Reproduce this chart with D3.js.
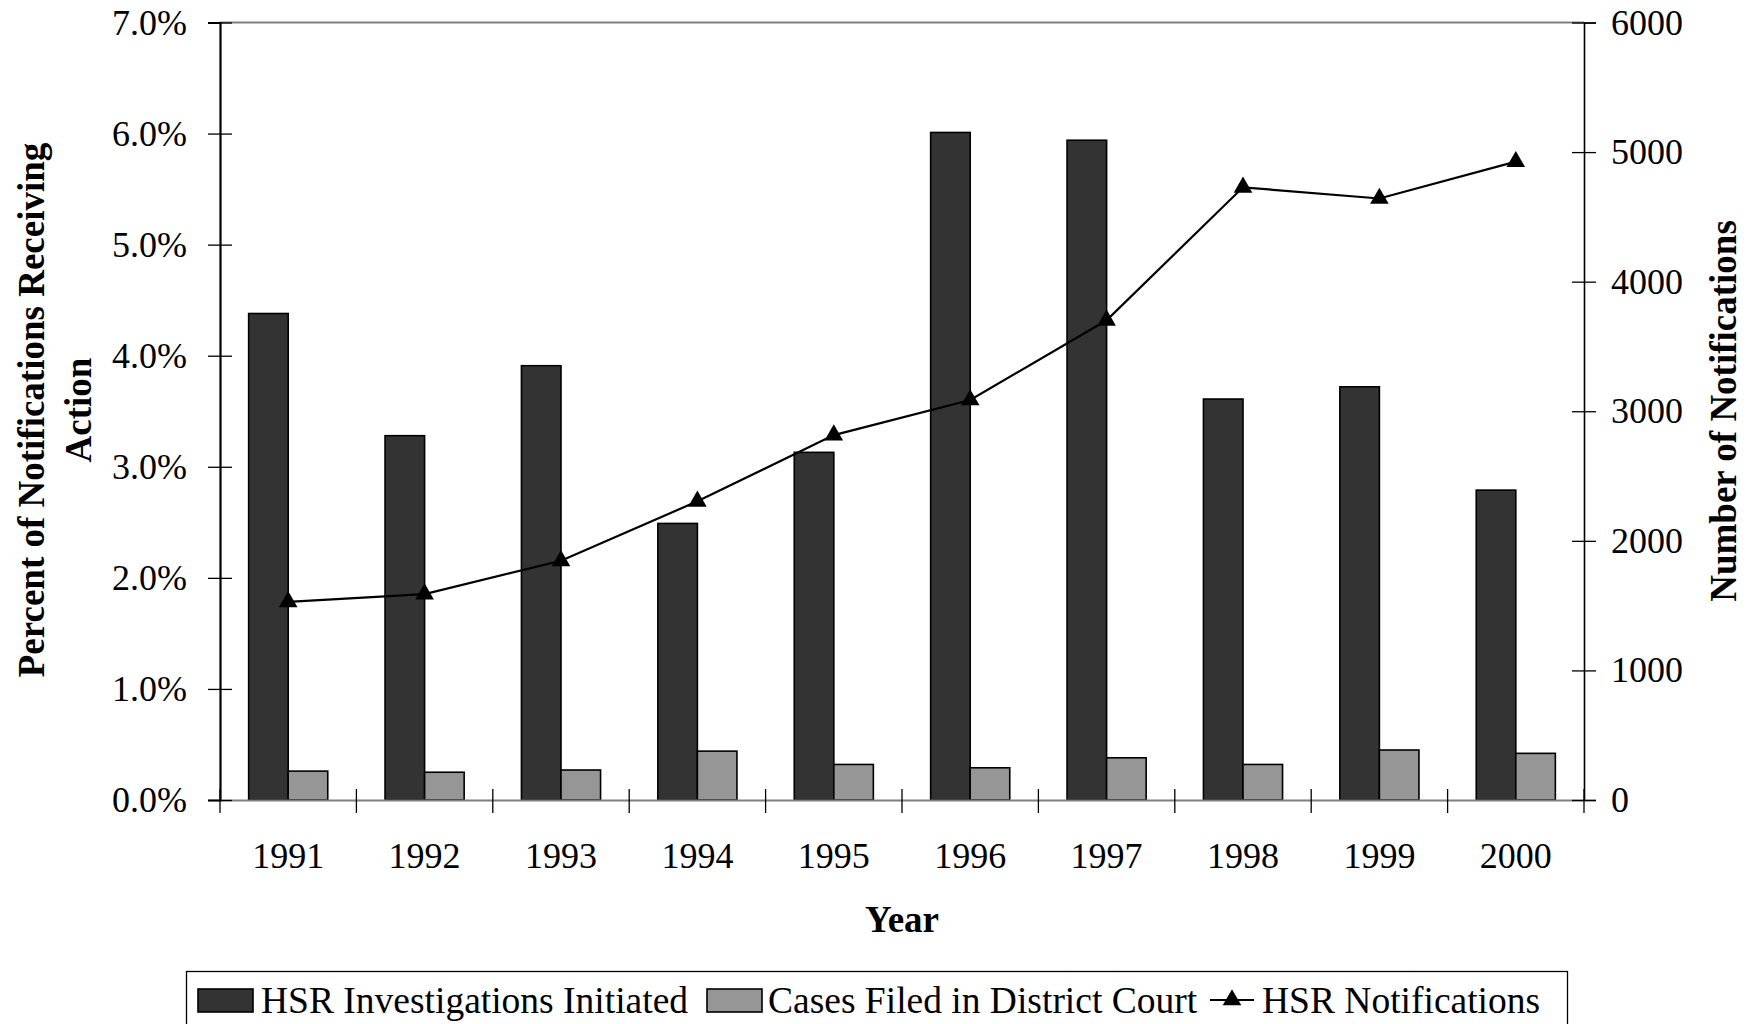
<!DOCTYPE html>
<html>
<head>
<meta charset="utf-8">
<script src="https://cdn.jsdelivr.net/npm/d3@7"></script>
<style>
  body { margin: 0; background: #fff; }
  svg { display: block; }
  svg text { font-family: "Liberation Serif", "Times New Roman", "DejaVu Serif", serif; }
</style>
</head>
<body>
<script>
// Chart data
const years = ["1991", "1992", "1993", "1994", "1995", "1996", "1997", "1998", "1999", "2000"];
const investigations = [4.38, 3.28, 3.91, 2.49, 3.13, 6.01, 5.94, 3.61, 3.72, 2.79]; // percent
const casesFiled = [0.26, 0.25, 0.27, 0.44, 0.32, 0.29, 0.38, 0.32, 0.45, 0.42];     // percent
const notifications = [1529, 1589, 1846, 2305, 2816, 3087, 3702, 4728, 4642, 4926];
const leftTicks = [0, 1, 2, 3, 4, 5, 6, 7];
const rightTicks = [0, 1000, 2000, 3000, 4000, 5000, 6000];

// Chart dimension
const width = 1756;
const height = 1024;
const plot = { left: 220, right: 1584, top: 22.5, bottom: 800 };

const svg = d3.select("body")
    .append("svg")
    .attr("width", width)
    .attr("height", height);

// Scales
const x = d3.scaleBand()
    .domain(years)
    .range([plot.left, plot.right])
    .padding(0);

const yLeft = d3.scaleLinear()
    .domain([0, 7])
    .range([plot.bottom, plot.top]);

const yRight = d3.scaleLinear()
    .domain([0, 6000])
    .range([plot.bottom, plot.top]);

const barW = x.bandwidth() * 0.29;

// Plot border (top)
svg.append("line")
    .attr("x1", plot.left).attr("x2", plot.right)
    .attr("y1", plot.top).attr("y2", plot.top)
    .attr("stroke", "#808080").attr("stroke-width", 2);

// Bars: investigations
svg.selectAll(".bar-inv")
    .data(years)
    .enter()
    .append("rect")
    .attr("class", "bar-inv")
    .attr("x", d => x(d) + x.bandwidth() / 2 - barW)
    .attr("y", (d, i) => yLeft(investigations[i]))
    .attr("width", barW)
    .attr("height", (d, i) => plot.bottom - yLeft(investigations[i]))
    .attr("fill", "#333333")
    .attr("stroke", "#000")
    .attr("stroke-width", 1.6);

// Bars: cases filed
svg.selectAll(".bar-case")
    .data(years)
    .enter()
    .append("rect")
    .attr("class", "bar-case")
    .attr("x", d => x(d) + x.bandwidth() / 2)
    .attr("y", (d, i) => yLeft(casesFiled[i]))
    .attr("width", barW)
    .attr("height", (d, i) => plot.bottom - yLeft(casesFiled[i]))
    .attr("fill", "#969696")
    .attr("stroke", "#000")
    .attr("stroke-width", 1.6);

// X axis
const xAxis = svg.append("g")
    .attr("transform", `translate(0, ${plot.bottom})`)
    .call(d3.axisBottom(x).tickSize(0).tickPadding(0));
xAxis.attr("font-family", null).attr("font-size", null);
xAxis.select(".domain").attr("stroke", "#808080").attr("stroke-width", 2);
xAxis.selectAll(".tick text")
    .attr("y", 68)
    .attr("dy", 0)
    .style("font-size", "36px")
    .attr("fill", "#000");

// Category boundary ticks
const boundaries = years.map(d => x(d)).concat([plot.right]);
svg.selectAll(".xtick")
    .data(boundaries)
    .enter()
    .append("line")
    .attr("class", "xtick")
    .attr("x1", d => d).attr("x2", d => d)
    .attr("y1", plot.bottom - 11).attr("y2", plot.bottom + 13)
    .attr("stroke", "#000").attr("stroke-width", 1.3);

// Left axis
const leftAxis = svg.append("g")
    .attr("transform", `translate(${plot.left}, 0)`)
    .call(d3.axisLeft(yLeft).tickValues(leftTicks).tickSize(12).tickPadding(21)
        .tickFormat(d => d.toFixed(1) + "%"));
leftAxis.attr("font-family", null).attr("font-size", null);
leftAxis.select(".domain").attr("stroke", "#000").attr("stroke-width", 2.2);
leftAxis.selectAll(".tick line").attr("x2", 12).attr("x1", -12).attr("stroke", "#000").attr("stroke-width", 1.3);
leftAxis.selectAll(".tick text")
    .attr("dy", "0.32em")
    .style("font-size", "36px")
    .attr("fill", "#000");

// Right axis
const rightAxis = svg.append("g")
    .attr("transform", `translate(${plot.right}, 0)`)
    .call(d3.axisRight(yRight).tickValues(rightTicks).tickSize(12).tickPadding(15)
        .tickFormat(d3.format("d")));
rightAxis.attr("font-family", null).attr("font-size", null);
rightAxis.select(".domain").attr("stroke", "#000").attr("stroke-width", 1.6);
rightAxis.selectAll(".tick line").attr("x1", -12).attr("x2", 12).attr("stroke", "#000").attr("stroke-width", 1.3);
rightAxis.selectAll(".tick text")
    .attr("dy", "0.32em")
    .style("font-size", "36px")
    .attr("fill", "#000");

// Notifications line
const line = d3.line()
    .x((d, i) => x(years[i]) + x.bandwidth() / 2)
    .y(d => yRight(d));

svg.append("path")
    .datum(notifications)
    .attr("d", line)
    .attr("fill", "none")
    .attr("stroke", "#000")
    .attr("stroke-width", 2.2);

const tri = d3.symbol().type(d3.symbolTriangle).size(150);
svg.selectAll(".marker")
    .data(notifications)
    .enter()
    .append("path")
    .attr("class", "marker")
    .attr("d", tri)
    .attr("transform", (d, i) => `translate(${x(years[i]) + x.bandwidth() / 2}, ${yRight(d)})`)
    .attr("fill", "#000");

// Axis titles
svg.append("text")
    .attr("x", 902)
    .attr("y", 932)
    .attr("text-anchor", "middle")
    .style("font-size", "37px")
    .style("font-weight", "bold")
    .text("Year");

const leftTitle = svg.append("text")
    .attr("transform", "translate(44, 410) rotate(-90)")
    .attr("text-anchor", "middle")
    .style("font-size", "37px")
    .style("font-weight", "bold");
leftTitle.append("tspan").attr("x", 0).attr("y", 0).text("Percent of Notifications Receiving");
leftTitle.append("tspan").attr("x", 0).attr("y", 47).text("Action");

svg.append("text")
    .attr("transform", "translate(1736, 411) rotate(-90)")
    .attr("text-anchor", "middle")
    .style("font-size", "37px")
    .style("font-weight", "bold")
    .text("Number of Notifications");

// Legend
const legend = svg.append("g");
legend.append("rect")
    .attr("x", 186.5).attr("y", 971.5)
    .attr("width", 1381).attr("height", 80)
    .attr("fill", "#fff")
    .attr("stroke", "#000")
    .attr("stroke-width", 1.3);

const legendBase = 1013;
legend.append("rect")
    .attr("x", 198).attr("y", 989).attr("width", 55).attr("height", 23)
    .attr("fill", "#333333").attr("stroke", "#000").attr("stroke-width", 1.6);
legend.append("text")
    .attr("x", 261).attr("y", legendBase)
    .style("font-size", "37.5px")
    .text("HSR Investigations Initiated");

legend.append("rect")
    .attr("x", 707).attr("y", 989).attr("width", 55).attr("height", 23)
    .attr("fill", "#969696").attr("stroke", "#000").attr("stroke-width", 1.6);
legend.append("text")
    .attr("x", 768).attr("y", legendBase)
    .style("font-size", "37.5px")
    .text("Cases Filed in District Court");

legend.append("line")
    .attr("x1", 1210).attr("x2", 1254)
    .attr("y1", 1000).attr("y2", 1000)
    .attr("stroke", "#000").attr("stroke-width", 2.2);
legend.append("path")
    .attr("d", tri)
    .attr("transform", "translate(1232, 1000)")
    .attr("fill", "#000");
legend.append("text")
    .attr("x", 1262).attr("y", legendBase)
    .style("font-size", "37.5px")
    .text("HSR Notifications");
</script>
</body>
</html>
